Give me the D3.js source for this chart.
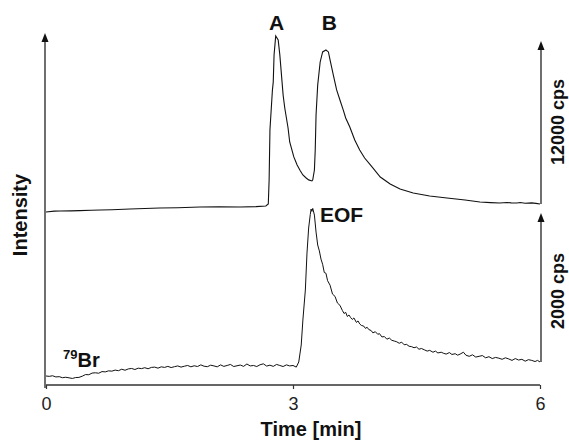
<!DOCTYPE html>
<html>
<head>
<meta charset="utf-8">
<script src="https://cdn.jsdelivr.net/npm/d3@7"></script>
<style>
  body { margin: 0; background: #fff; }
  svg { display: block; font-family: "Liberation Sans", Arial, sans-serif; }
</style>
</head>
<body>
<div id="chart"></div>
<script>
// time [min], intensity [cps] (offset traces)
const upperTrace = [
  [0, 740], [0.1, 800], [0.17, 810], [0.3, 820], [0.41, 835], [0.55, 870],
  [0.66, 880], [0.8, 905], [1.02, 960], [1.2, 990], [1.38, 1030], [1.6, 1050],
  [1.87, 1100], [2.1, 1115], [2.36, 1100], [2.55, 1130], [2.67, 1180],
  [2.70, 1325], [2.71, 3090], [2.72, 6770], [2.75, 9720], [2.76, 10300],
  [2.77, 12300], [2.79, 13690], [2.82, 13400], [2.84, 12300], [2.88, 9350],
  [2.90, 8390], [2.94, 6920], [2.96, 5890], [3.01, 4790], [3.05, 4200],
  [3.09, 3760], [3.12, 3460], [3.16, 3240], [3.19, 3100], [3.23, 3020],
  [3.24, 3100], [3.26, 3830], [3.27, 5300], [3.28, 7880], [3.30, 10090],
  [3.33, 11780], [3.36, 12520], [3.40, 12660], [3.43, 12520], [3.45, 11930],
  [3.49, 10820], [3.53, 9720], [3.57, 8980], [3.61, 8250], [3.64, 7660],
  [3.69, 6990], [3.75, 6040], [3.81, 5300], [3.87, 4710], [3.94, 4200],
  [4.06, 3310], [4.18, 2800], [4.30, 2430], [4.46, 2140], [4.66, 1910],
  [4.87, 1770], [5.09, 1620], [5.27, 1470], [5.40, 1430], [5.51, 1400],
  [5.60, 1440], [5.65, 1410], [5.72, 1400], [5.76, 1430], [5.82, 1380],
  [5.90, 1410], [5.95, 1370], [6.0, 1325]
];

const lowerTrace = [
  [0.00, 121], [0.04, 116], [0.08, 124], [0.12, 108], [0.16, 112], [0.20, 98],
  [0.24, 104], [0.28, 96], [0.32, 88], [0.36, 100], [0.40, 102], [0.44, 118],
  [0.48, 140], [0.52, 138], [0.56, 160], [0.60, 164], [0.64, 158], [0.68, 180],
  [0.72, 176], [0.76, 190], [0.80, 186], [0.84, 200], [0.88, 192], [0.92, 212],
  [0.96, 198], [1.00, 216], [1.04, 222], [1.08, 208], [1.12, 226], [1.16, 220],
  [1.20, 232], [1.24, 218], [1.28, 236], [1.32, 240], [1.36, 226], [1.40, 244],
  [1.44, 236], [1.48, 250], [1.52, 234], [1.56, 246], [1.60, 256], [1.64, 240],
  [1.68, 252], [1.72, 262], [1.76, 244], [1.80, 258], [1.84, 248], [1.88, 270],
  [1.92, 252], [1.96, 246], [2.00, 266], [2.04, 256], [2.08, 244], [2.12, 270],
  [2.16, 250], [2.20, 262], [2.24, 276], [2.28, 248], [2.32, 258], [2.36, 268],
  [2.40, 250], [2.44, 282], [2.48, 256], [2.52, 262], [2.56, 248], [2.60, 272],
  [2.64, 284], [2.68, 254], [2.72, 266], [2.76, 250], [2.80, 276], [2.84, 262],
  [2.88, 248], [2.92, 270], [2.96, 256], [3.00, 262], [3.04, 240],
  [3.07, 309], [3.10, 537], [3.12, 872], [3.15, 1275], [3.17, 1771],
  [3.19, 2107], [3.21, 2290], [3.22, 2362], [3.23, 2330], [3.24, 2370],
  [3.26, 2281], [3.28, 2053], [3.30, 1879], [3.32, 1800], [3.34, 1690],
  [3.36, 1620], [3.38, 1510], [3.40, 1500], [3.42, 1400], [3.45, 1340],
  [3.48, 1220], [3.51, 1190], [3.54, 1100], [3.57, 1070],
  [3.60, 1000], [3.62, 960], [3.64, 975], [3.66, 920], [3.68, 940], [3.70, 905],
  [3.72, 880], [3.74, 900], [3.77, 840], [3.79, 860], [3.81, 820], [3.83, 800],
  [3.86, 790], [3.88, 760], [3.90, 775], [3.92, 745], [3.95, 730], [3.97, 700],
  [4.00, 715], [4.03, 680], [4.05, 690], [4.08, 645], [4.11, 650], [4.14, 615],
  [4.17, 630], [4.20, 600], [4.23, 590], [4.26, 580], [4.29, 560], [4.32, 575],
  [4.35, 540], [4.38, 545], [4.41, 520], [4.44, 515], [4.47, 500], [4.50, 510],
  [4.53, 480], [4.56, 490], [4.60, 470], [4.63, 455], [4.66, 465], [4.70, 440],
  [4.73, 455], [4.76, 430], [4.80, 440], [4.83, 425], [4.86, 415], [4.90, 435],
  [4.93, 410], [4.97, 420], [5.00, 400], [5.03, 415], [5.07, 440], [5.10, 400],
  [5.14, 385], [5.18, 405], [5.22, 375], [5.26, 385], [5.30, 395], [5.34, 365],
  [5.38, 380], [5.42, 355], [5.46, 370], [5.50, 360], [5.54, 345], [5.58, 365],
  [5.62, 350], [5.66, 330], [5.70, 355], [5.74, 335], [5.78, 345], [5.82, 320],
  [5.86, 340], [5.90, 330], [5.94, 315], [5.97, 330], [6.00, 309]
];

const xTicks = [0, 3, 6];
const upperSpan = 12000;
const lowerSpan = 2000;
const peakLabels = [
  { text: "A", t: 2.8 },
  { text: "B", t: 3.44 }
];

const width = 569;
const height = 443;

const svg = d3.select("#chart").append("svg")
  .attr("width", width)
  .attr("height", height);

const xScale = d3.scaleLinear().domain([0, 6]).range([46, 540]);
const yUpper = d3.scaleLinear().domain([0, upperSpan]).range([222, 59]);
const yLower = d3.scaleLinear().domain([0, lowerSpan]).range([385, 236]);

const axisColor = "#333";

function arrow(x, y1, y2) {
  svg.append("line")
    .attr("x1", x).attr("x2", x)
    .attr("y1", y1).attr("y2", y2 + 6)
    .attr("stroke", axisColor)
    .attr("stroke-width", 1.4);
  svg.append("path")
    .attr("d", `M${x},${y2} L${x - 3.5},${y2 + 9} L${x + 3.5},${y2 + 9} Z`)
    .attr("fill", "#111");
}

// x axis
const xAxis = svg.append("g")
  .attr("transform", `translate(0, 385)`)
  .call(d3.axisBottom(xScale).tickValues(xTicks).tickSize(4).tickPadding(8).tickFormat(d3.format("d")));
xAxis.select(".domain").attr("stroke", axisColor).attr("stroke-width", 1.4)
  .attr("d", `M${xScale(0)},0H${xScale(6)}`);
xAxis.selectAll(".tick line").attr("stroke", axisColor).attr("stroke-width", 1.2);
xAxis.selectAll(".tick text")
  .attr("fill", "#222")
  .style("font-size", "18px")
  .style("font-family", "'Liberation Sans', Arial, sans-serif");

// left intensity axis
arrow(xScale(0) - 1, 388, 33);

// right scale bars
const upperEnd = upperTrace[upperTrace.length - 1][1];
const lowerEnd = lowerTrace[lowerTrace.length - 1][1];
arrow(xScale(6) + 1, yUpper(upperEnd), yUpper(upperEnd + upperSpan));
arrow(xScale(6) + 1, yLower(lowerEnd), yLower(lowerEnd + lowerSpan));

const lineUpper = d3.line().x((d) => xScale(d[0])).y((d) => yUpper(d[1]));
const lineLower = d3.line().x((d) => xScale(d[0])).y((d) => yLower(d[1]));

svg.append("path")
  .datum(upperTrace)
  .attr("d", lineUpper)
  .attr("fill", "none")
  .attr("stroke", "#111")
  .attr("stroke-width", 1.1);

svg.append("path")
  .datum(lowerTrace)
  .attr("d", lineLower)
  .attr("fill", "none")
  .attr("stroke", "#111")
  .attr("stroke-width", 1);

// labels
svg.selectAll(".peak")
  .data(peakLabels)
  .join("text")
  .attr("class", "peak")
  .attr("x", (d) => xScale(d.t))
  .attr("y", 30)
  .attr("text-anchor", "middle")
  .attr("font-weight", "bold")
  .attr("font-size", 21)
  .attr("fill", "#111")
  .text((d) => d.text);

svg.append("text")
  .attr("x", 320)
  .attr("y", 222)
  .attr("font-weight", "bold")
  .attr("font-size", 21)
  .attr("fill", "#111")
  .text("EOF");

const br = svg.append("text")
  .attr("x", 63)
  .attr("y", 367)
  .attr("font-weight", "bold")
  .attr("fill", "#111");
br.append("tspan").attr("font-size", 13).attr("dy", -8).text("79");
br.append("tspan").attr("font-size", 20).attr("dy", 8).text("Br");

svg.append("text")
  .attr("transform", "translate(27, 215) rotate(-90)")
  .attr("text-anchor", "middle")
  .attr("font-weight", "bold")
  .attr("font-size", 20)
  .attr("fill", "#111")
  .text("Intensity");

svg.append("text")
  .attr("transform", "translate(564, 122) rotate(-90)")
  .attr("text-anchor", "middle")
  .attr("font-weight", "bold")
  .attr("font-size", 18)
  .attr("fill", "#111")
  .text("12000 cps");

svg.append("text")
  .attr("transform", "translate(564, 291) rotate(-90)")
  .attr("text-anchor", "middle")
  .attr("font-weight", "bold")
  .attr("font-size", 18)
  .attr("fill", "#111")
  .text("2000 cps");

svg.append("text")
  .attr("x", 311)
  .attr("y", 436)
  .attr("text-anchor", "middle")
  .attr("font-weight", "bold")
  .attr("font-size", 20)
  .attr("fill", "#111")
  .text("Time [min]");
</script>
</body>
</html>
